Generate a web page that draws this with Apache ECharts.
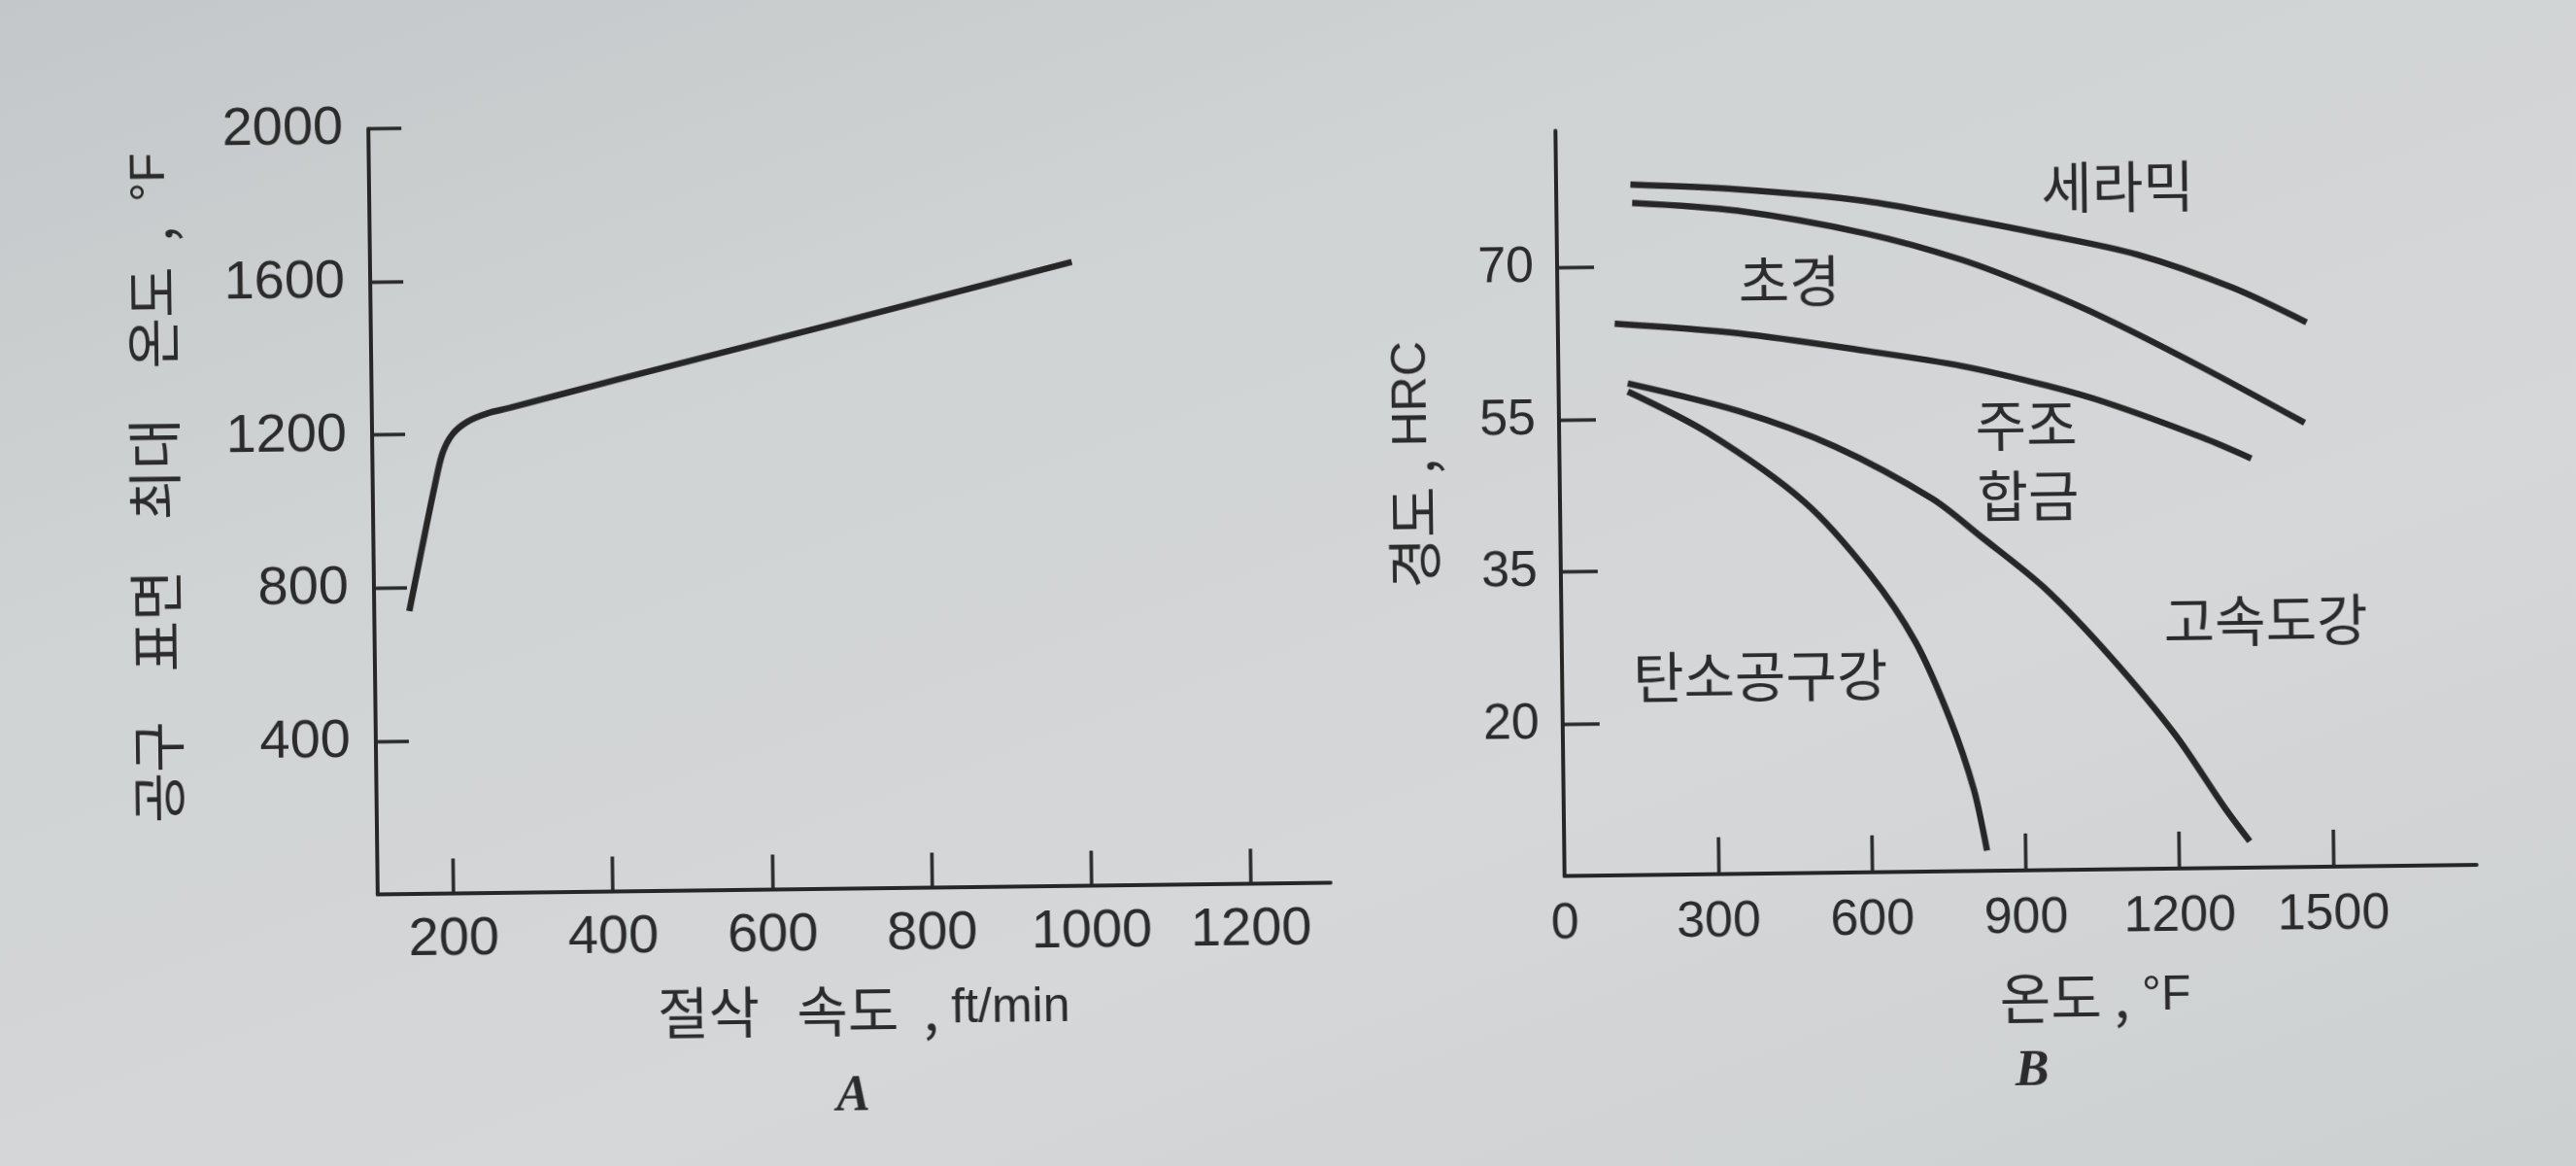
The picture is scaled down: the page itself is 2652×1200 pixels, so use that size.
<!DOCTYPE html>
<html>
<head>
<meta charset="utf-8">
<style>
  html, body { margin: 0; padding: 0; width: 2652px; height: 1200px; overflow: hidden;
    background: linear-gradient(160deg, #c4c7c9 0%, #d0d3d4 30%, #d5d7d8 65%, #cdd0d1 100%); }
  /* 사진이 살짝 기울어져 있어서 전체를 조금 돌림 */
  #chart { width: 2652px; height: 1200px; transform: rotate(-0.7deg); transform-origin: 1326px 600px; }
</style>
</head>
<body>
<div id="chart"></div>
<script src="https://cdn.jsdelivr.net/npm/echarts@6.0.0/dist/echarts.min.js"></script>
<script>
// ---- A: 절삭 속도 - 공구 표면 최대 온도 ----
const speedTicks = [200, 400, 600, 800, 1000, 1200];
const tempTicks = [400, 800, 1200, 1600, 2000];
const cuttingSpeed = [149, 166, 183, 193, 206, 225, 250, 277, 415, 695, 985];
const maxTemp = [739, 905, 1067, 1150, 1200, 1232, 1253, 1266, 1338, 1480, 1630];

// ---- B: 온도 - 경도 (HRC) ----
const heatTicks = [0, 300, 600, 900, 1200, 1500];
const hardnessTicks = [20, 35, 55, 70];   // 눈금 간격이 같게 그려진 비선형 눈금

const ceramicT = [145, 353, 603, 789, 951, 1132, 1318, 1461];
const ceramicH = [78.1, 77.5, 76.2, 74.4, 72.7, 70.6, 67.2, 63.7];

const carbideT = [148, 353, 603, 789, 940, 1070, 1256, 1455];
const carbideH = [76.3, 75.4, 73.0, 70.3, 67.3, 64.3, 59.4, 53.4];

const castT = [111, 353, 603, 789, 951, 1070, 1256, 1350];
const castH = [64.4, 63.3, 61.4, 59.8, 57.8, 56.0, 51.6, 48.8];

const hssT = [135, 353, 539, 727, 820, 944, 1070, 1195, 1289, 1338];
const hssH = [58.5, 55.6, 51.0, 44.0, 39.0, 32.8, 26.0, 18.2, 11.0, 7.6];

const carbonT = [135, 291, 477, 603, 690, 756, 801, 825];
const carbonH = [57.7, 53.0, 43.8, 34.4, 27.7, 20.0, 13.0, 7.0];

// HRC 값 -> 축 위치 (눈금 1칸 = 1)
function hrcToPos(v) {
    const t = hardnessTicks;
    if (v <= t[0]) return 1 - (t[0] - v) / (t[1] - t[0]);
    for (let i = 0; i < t.length - 1; i++) {
        if (v <= t[i + 1]) return i + 1 + (v - t[i]) / (t[i + 1] - t[i]);
    }
    const n = t.length;
    return n + (v - t[n - 1]) / (t[n - 1] - t[n - 2]);
}

function pairs(xs, ys, f) {
    return xs.map((x, i) => [x, f ? f(ys[i]) : ys[i]]);
}

const ink = '#262626';
const textInk = '#2b2b2b';
const hangul = "'Noto Sans CJK KR'";
const latin = "'Liberation Sans'";

function axisBase(tickVals, labelVals, fontSize, margin, tickLen) {
    return {
        axisLine: { show: true, lineStyle: { color: ink, width: 4 } },
        axisTick: { show: true, inside: true, length: tickLen, customValues: tickVals,
            lineStyle: { color: ink, width: 3.5 } },
        axisLabel: { show: true, customValues: labelVals, fontSize: fontSize, fontFamily: latin,
            color: textInk, margin: margin, formatter: v => String(v) },
        splitLine: { show: false }
    };
}

function curve(name, xi, yi, data) {
    return {
        name: name, type: 'line', xAxisIndex: xi, yAxisIndex: yi, data: data,
        showSymbol: false, smooth: 0.3,
        lineStyle: { color: ink, width: 6.5 }, silent: true
    };
}

// 라벨 글자 (한글 + 영문 섞임)
function label(x, y, text, rotation) {
    return {
        type: 'text', x: x, y: y, rotation: rotation || 0, silent: true,
        style: {
            text: text, align: 'center', verticalAlign: 'middle', fill: textInk,
            rich: {
                h: { fontFamily: hangul, fontSize: 57, fill: textInk },
                l: { fontFamily: latin, fontSize: 50, fill: textInk }
            }
        }
    };
}

const chart = echarts.init(document.getElementById('chart'));

const hardPos = hardnessTicks.map((v, i) => i + 1);
const yB = Object.assign({ type: 'value', gridIndex: 1, min: 0, max: 4.9 },
    axisBase(hardPos, hardPos, 52, 24, 38));
yB.axisLabel.formatter = v => String(hardnessTicks[Math.round(v) - 1]);

const option = {
    backgroundColor: 'transparent',
    animation: false,
    grid: [
        { left: 385, top: 121, width: 981, height: 788 },
        { left: 1607, top: 138, width: 939, height: 767 }
    ],
    xAxis: [
        Object.assign({ type: 'value', gridIndex: 0, min: 105, max: 1300 },
            axisBase(speedTicks, speedTicks, 56, 20, 36)),
        Object.assign({ type: 'value', gridIndex: 1, min: 0, max: 1780 },
            axisBase(heatTicks.filter(v => v > 0), heatTicks, 52, 24, 38))
    ],
    yAxis: [
        Object.assign({ type: 'value', gridIndex: 0, min: 0, max: 2000 },
            axisBase(tempTicks, tempTicks, 56, 26, 34)),
        yB
    ],
    series: [
        curve('최대 온도', 0, 0, pairs(cuttingSpeed, maxTemp)),
        curve('세라믹', 1, 1, pairs(ceramicT, ceramicH, hrcToPos)),
        curve('초경', 1, 1, pairs(carbideT, carbideH, hrcToPos)),
        curve('주조 합금', 1, 1, pairs(castT, castH, hrcToPos)),
        curve('고속도강', 1, 1, pairs(hssT, hssH, hrcToPos)),
        curve('탄소공구강', 1, 1, pairs(carbonT, carbonH, hrcToPos))
    ],
    graphic: [
        // 축 제목
        label(160, 488, '{h|공구    표면    최대    온도  ,  }{l|°F}', Math.PI / 2),
        label(884, 1034, '{h|절삭   속도  , }{l|ft/min}'),
        label(1456, 480, '{h|경도 , }{l|HRC}', Math.PI / 2),
        label(2152, 1036, '{h|온도 , }{l|°F}'),
        // 곡선 이름
        label(2185, 202, '{h|세라믹}'),
        label(1846, 295, '{h|초경}'),
        label(2088, 446, '{h|주조}'),
        label(2089, 519, '{h|합금}'),
        label(2332, 650, '{h|고속도강}'),
        label(1811, 701, '{h|탄소공구강}'),
        // 그림 번호
        { type: 'text', x: 872, y: 1124, silent: true,
          style: { text: 'A', align: 'center', verticalAlign: 'middle', fill: textInk,
                   fontFamily: "'Liberation Serif'", fontStyle: 'italic', fontWeight: 'bold', fontSize: 52 } },
        { type: 'text', x: 2086, y: 1113, silent: true,
          style: { text: 'B', align: 'center', verticalAlign: 'middle', fill: textInk,
                   fontFamily: "'Liberation Serif'", fontStyle: 'italic', fontWeight: 'bold', fontSize: 52 } }
    ]
};

chart.setOption(option);
</script>
</body>
</html>
